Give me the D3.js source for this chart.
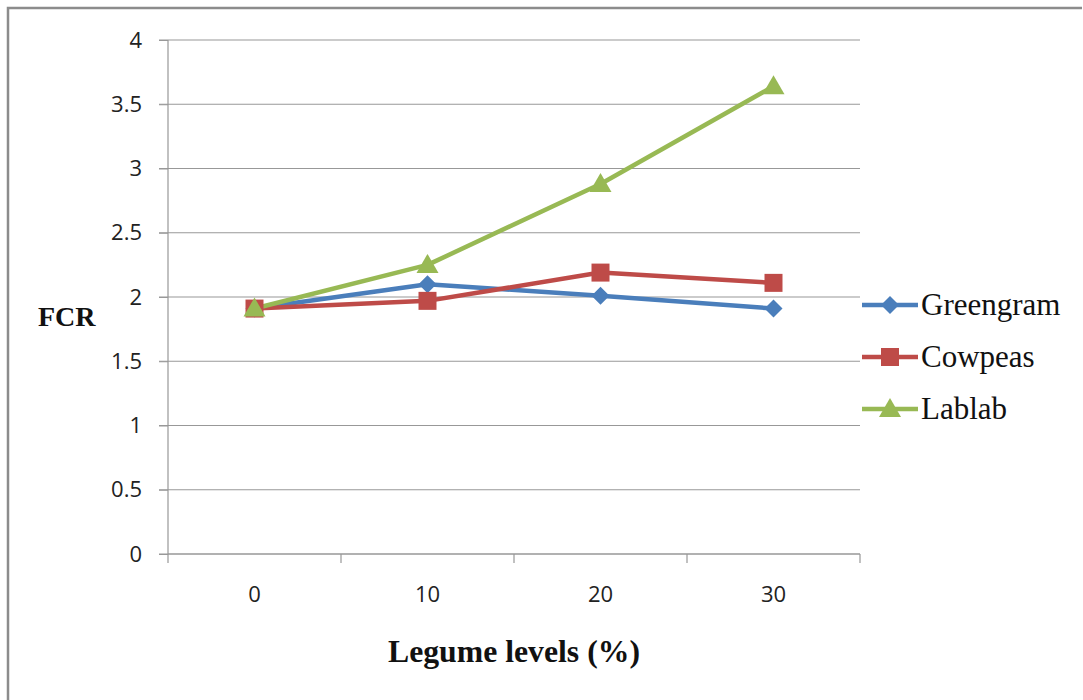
<!DOCTYPE html>
<html>
<head>
<meta charset="utf-8">
<script src="https://cdn.jsdelivr.net/npm/d3@7"></script>
<style>
  body { margin: 0; background: white; }
</style>
</head>
<body>
<div id="viz-container"></div>
<script>
let vizWidth = 1083;
let vizHeight = 700;

// data
let categories = ["0", "10", "20", "30"];
let seriesNames = ["Greengram", "Cowpeas", "Lablab"];
let greengram = [1.91, 2.10, 2.01, 1.91];
let cowpeas = [1.91, 1.97, 2.19, 2.11];
let lablab = [1.91, 2.25, 2.88, 3.64];
let yTicks = [0, 0.5, 1, 1.5, 2, 2.5, 3, 3.5, 4];
let colors = ["#4A7EBB", "#BE4B48", "#98B954"];

let series = [greengram, cowpeas, lablab];

// marker shapes: diamond, square, triangle
let markerPaths = [
    "M0,-9L9,0L0,9L-9,0Z",
    "M-9,-9H9V9H-9Z",
    "M0,-11L11,8H-11Z"
];

let viz = d3.select("#viz-container")
    .append("svg")
        .attr("width", vizWidth)
        .attr("height", vizHeight)
        .style("background-color", "white");

// outer frame (top and left visible)
viz.append("path")
    .attr("d", "M8,700 L8,8 L1082,8")
    .attr("fill", "none")
    .attr("stroke", "#8c8c8c")
    .attr("stroke-width", 2.5);

let plotLeft = 168, plotRight = 860, plotTop = 40, plotBottom = 554;

let x = d3.scaleBand().domain(categories).range([plotLeft, plotRight]);
let y = d3.scaleLinear().domain([0, 4]).range([plotBottom, plotTop]);

// gridlines
viz.append("g")
    .selectAll("line")
    .data(yTicks)
    .enter().append("line")
        .attr("x1", plotLeft - 9)
        .attr("x2", plotRight)
        .attr("y1", d => y(d))
        .attr("y2", d => y(d))
        .attr("stroke", "#989898")
        .attr("stroke-width", 1.2);

// y axis
let yAxis = viz.append("g")
    .attr("transform", "translate(" + plotLeft + ",0)")
    .call(d3.axisLeft(y).tickValues(yTicks).tickSize(9).tickPadding(17).tickFormat(d3.format("")));
yAxis.select(".domain").attr("stroke", "#989898").attr("stroke-width", 1.2).attr("d", "M0," + plotTop + "V" + plotBottom);
yAxis.selectAll(".tick line").attr("stroke", "#989898");
yAxis.selectAll("text")
    .style("font-family", "'Open Sans', sans-serif")
    .style("font-size", "22px")
    .attr("fill", "#222");

// x axis
let xAxis = viz.append("g")
    .attr("transform", "translate(0," + plotBottom + ")")
    .call(d3.axisBottom(x).tickSize(0).tickPadding(32));
xAxis.select(".domain").attr("stroke", "#989898").attr("stroke-width", 1.2).attr("d", "M" + plotLeft + ",0H" + plotRight);
xAxis.selectAll("text")
    .style("font-family", "'Open Sans', sans-serif")
    .style("font-size", "22px")
    .attr("fill", "#222");
// tick marks between categories
let boundaries = categories.map(c => x(c)).concat([plotRight]);
xAxis.selectAll(".bound")
    .data(boundaries)
    .enter().append("line")
        .attr("x1", d => d).attr("x2", d => d)
        .attr("y1", 0).attr("y2", 9)
        .attr("stroke", "#989898")
        .attr("stroke-width", 1.2);

// lines
let line = d3.line()
    .x((d, i) => x(categories[i]) + x.bandwidth() / 2)
    .y(d => y(d));

series.forEach(function(s, k) {
    viz.append("path")
        .datum(s)
        .attr("d", line)
        .attr("fill", "none")
        .attr("stroke", colors[k])
        .attr("stroke-width", 4.5)
        .attr("stroke-linejoin", "round");
});

series.forEach(function(s, k) {
    viz.append("g")
        .selectAll("path")
        .data(s)
        .enter().append("path")
            .attr("d", markerPaths[k])
            .attr("transform", (d, i) => "translate(" + (x(categories[i]) + x.bandwidth() / 2) + "," + y(d) + ")")
            .attr("fill", colors[k]);
});

// legend
let legend = viz.append("g")
    .selectAll("g")
    .data(seriesNames)
    .enter().append("g")
        .attr("transform", (d, i) => "translate(862," + (305 + i * 52) + ")");
legend.append("line")
    .attr("x1", 0).attr("x2", 56)
    .attr("stroke", (d, i) => colors[i])
    .attr("stroke-width", 4.5);
legend.append("path")
    .attr("d", (d, i) => markerPaths[i])
    .attr("transform", "translate(28,0)")
    .attr("fill", (d, i) => colors[i]);
legend.append("text")
    .attr("x", 59)
    .attr("y", 10)
    .text(d => d)
    .attr("font-family", "'Liberation Serif', serif")
    .attr("font-size", 31)
    .attr("fill", "#111");

// axis titles
viz.append("text")
    .attr("x", 38)
    .attr("y", 326)
    .text("FCR")
    .attr("font-family", "'Liberation Serif', serif")
    .attr("font-weight", "bold")
    .attr("font-size", 28)
    .attr("fill", "#111");

viz.append("text")
    .attr("x", 514)
    .attr("y", 662)
    .attr("text-anchor", "middle")
    .attr("textLength", 252)
    .attr("lengthAdjust", "spacingAndGlyphs")
    .text("Legume levels (%)")
    .attr("font-family", "'Liberation Serif', serif")
    .attr("font-weight", "bold")
    .attr("font-size", 32)
    .attr("fill", "#111");
</script>
</body>
</html>
